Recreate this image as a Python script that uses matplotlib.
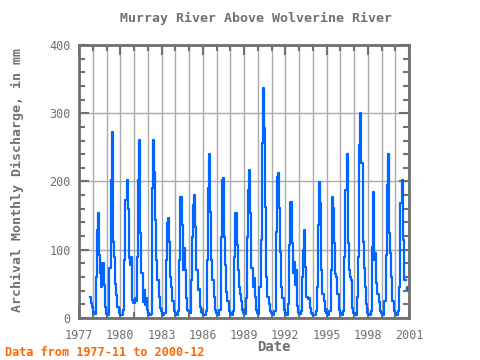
import numpy as np
import pandas as pd
import matplotlib
matplotlib.use("Agg")
import matplotlib.pyplot as plt
from matplotlib.ticker import MultipleLocator

title = "Murray River Above Wolverine River"
ylabel = "Archival Monthly Discharge, in mm"
xlabel = "Date"
footer = "Data from 1977-11 to 2000-12"
start = "1977-11"

# monthly discharge (mm), 1977-11 .. 2000-12
discharge = [
    31, 22,
    16, 9, 6, 60, 129, 154, 92, 66, 46, 80, 48, 16,        # 1978
    6, 5, 5, 73, 202, 272, 112, 90, 50, 34, 16, 8,         # 1979
    5, 4, 5, 12, 85, 173, 202, 160, 88, 78, 89, 26,        # 1980
    22, 29, 25, 90, 202, 261, 125, 66, 24, 41, 19, 30,     # 1981
    12, 7, 4, 6, 190, 261, 214, 144, 85, 55, 31, 15,       # 1982
    10, 6, 5, 8, 85, 139, 146, 112, 60, 45, 25, 10,        # 1983
    7, 5, 5, 10, 85, 177, 136, 70, 102, 70, 29, 12,        # 1984
    10, 8, 56, 118, 166, 180, 134, 70, 41, 43, 16, 9,      # 1985
    7, 5, 5, 10, 85, 190, 241, 155, 85, 55, 31, 12,        # 1986
    8, 6, 5, 12, 118, 202, 205, 118, 77, 38, 25, 10,       # 1987
    8, 6, 5, 10, 90, 154, 107, 70, 46, 35, 25, 12,         # 1988
    8, 6, 30, 118, 188, 217, 154, 73, 45, 59, 31, 12,      # 1989
    8, 6, 46, 114, 256, 337, 278, 163, 60, 31, 20, 10,     # 1990
    8, 6, 5, 10, 126, 207, 212, 161, 97, 46, 30, 12,       # 1991
    8, 6, 5, 20, 107, 170, 110, 66, 82, 48, 70, 18,        # 1992
    8, 6, 10, 60, 100, 129, 75, 31, 28, 30, 15, 8,         # 1993
    6, 5, 5, 10, 46, 136, 199, 168, 70, 35, 25, 10,        # 1994
    8, 6, 5, 10, 70, 177, 161, 110, 65, 60, 35, 12,        # 1995
    8, 6, 5, 10, 90, 188, 241, 110, 70, 60, 55, 15,        # 1996
    8, 6, 5, 31, 90, 253, 300, 227, 111, 73, 46, 20,       # 1997
    8, 6, 5, 10, 104, 185, 85, 95, 51, 35, 23, 10,         # 1998
    8, 6, 5, 25, 92, 195, 241, 125, 95, 60, 25, 10,        # 1999
    8, 6, 5, 10, 46, 168, 202, 114, 56, 56, np.nan, 44,    # 2000
]

dates = pd.date_range(start, periods=len(discharge), freq="MS")
t = np.asarray(dates.year + (dates.month - 1) / 12.0)
y = np.array(discharge, dtype=float)

# points with no valid neighbour get a dot, like the original
prev_nan = np.r_[True, np.isnan(y[:-1])]
next_nan = np.r_[np.isnan(y[1:]), True]
lone = ~np.isnan(y) & prev_nan & next_nan

gray = "#707070"
blue = "#0066ff"
mono = "DejaVu Sans Mono"

fig = plt.figure(figsize=(4.8, 3.6), dpi=100)
ax = fig.add_axes([0.1646, 0.1167, 0.6875, 0.7583])

ax.plot(t, y, color=blue, lw=1.6, drawstyle="steps-mid")
ax.plot(t[lone], y[lone], ls="none", marker="o", ms=3, color=blue)

ax.set_xlim(1977, 2001)
ax.set_ylim(0, 400)
ax.xaxis.set_major_locator(MultipleLocator(3))
ax.xaxis.set_minor_locator(MultipleLocator(1))
ax.yaxis.set_major_locator(MultipleLocator(100))
ax.yaxis.set_minor_locator(MultipleLocator(20))

ax.grid(True, which="both", axis="x", color="#aaaaaa", lw=1)
ax.grid(True, which="major", axis="y", color="#aaaaaa", lw=1)
ax.set_axisbelow(True)

ax.tick_params(which="both", direction="in", top=True, right=True, color=gray,
               labelcolor=gray, labelsize=8.5)
ax.tick_params(which="major", length=7, width=1.5)
ax.tick_params(which="minor", length=4, width=1.5)
ax.tick_params(axis="x", pad=8)
ax.tick_params(axis="y", pad=6)
for lab in ax.get_xticklabels() + ax.get_yticklabels():
    lab.set_family(mono)
for s in ax.spines.values():
    s.set_color(gray)
    s.set_linewidth(2)

fig.text(0.533, 0.95, title, ha="center", va="center", color=gray,
         family=mono, fontsize=9.5, fontweight="bold")
fig.text(0.037, 0.5, ylabel, ha="center", va="center", rotation=90,
         color=gray, family=mono, fontsize=9.5, fontweight="bold")
fig.text(0.571, 0.035, xlabel, ha="center", va="center", color=gray,
         family=mono, fontsize=10, fontweight="bold")
fig.text(0.01, 0.022, footer, ha="left", va="center", color="#ff6600",
         family=mono, fontsize=8.5, fontweight="bold")

fig.savefig("out.png", dpi=100)
